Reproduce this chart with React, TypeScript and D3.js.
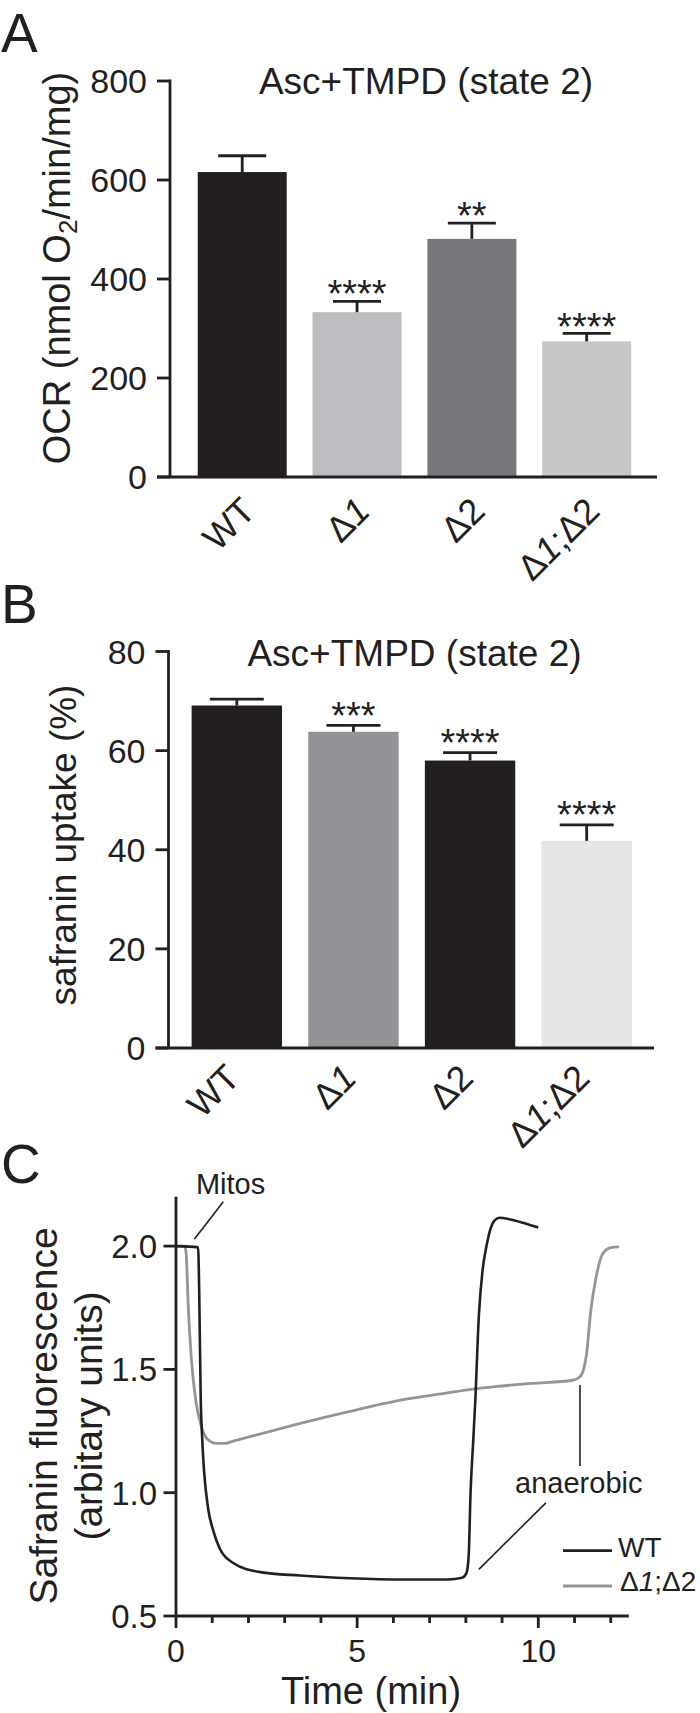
import React from "react";
import * as d3 from "d3";

// ---------- DATA ----------
const groups = ["WT", "Δ1", "Δ2", "Δ1;Δ2"];

const ocrMeans = [616, 333, 481, 274];
const ocrSems = [33, 22, 32, 16];
const ocrStars = ["", "****", "**", "****"];
const ocrTicks = [0, 200, 400, 600, 800];

const safMeans = [69.1, 63.8, 58.0, 41.8];
const safSems = [1.3, 1.3, 1.6, 3.2];
const safStars = ["", "***", "****", "****"];
const safTicks = [0, 20, 40, 60, 80];

const wtTime = [0, 0.61, 0.64, 0.68, 0.73, 0.78, 0.89, 1.03, 1.21, 1.58, 2.32, 3.42, 4.8, 6.3, 7.5, 7.9, 8.02, 8.08, 8.13, 8.2, 8.26, 8.36, 8.46, 8.57, 8.68, 8.8, 8.93, 9.2, 9.57, 10.0];
const wtValue = [2.0, 1.995, 1.82, 1.4, 1.2, 1.078, 0.933, 0.845, 0.773, 0.715, 0.678, 0.664, 0.653, 0.648, 0.648, 0.655, 0.675, 0.75, 1.0, 1.2, 1.37, 1.72, 1.9, 2.0, 2.07, 2.105, 2.115, 2.109, 2.095, 2.075];

const dkTime = [0, 0.24, 0.28, 0.34, 0.42, 0.55, 0.66, 0.85, 1.12, 1.35, 1.6, 2.5, 3.4, 4.8, 6.2, 7.5, 8.2, 8.8, 9.8, 10.95, 11.15, 11.25, 11.33, 11.45, 11.59, 11.77, 12.0, 12.23];
const dkValue = [2.0, 2.0, 1.97, 1.75, 1.55, 1.37, 1.29, 1.22, 1.2, 1.2, 1.21, 1.245, 1.28, 1.33, 1.375, 1.405, 1.42, 1.43, 1.443, 1.456, 1.47, 1.5, 1.56, 1.74, 1.87, 1.967, 1.994, 1.997];

const cYTicks = [0.5, 1.0, 1.5, 2.0];
const cXTicks = [0, 1, 2, 3, 4, 5, 6, 7, 8, 9, 10, 11, 12];
const cXLabels = [0, 5, 10];

// ---------- STYLE ----------
const FONT = "'Liberation Sans', Arial, Helvetica, sans-serif";
const INK = "#231f20";
const ocrColors = ["#231f20", "#bcbdc0", "#77787b", "#c6c7c9"];
const safColors = ["#231f20", "#929497", "#231f20", "#e5e6e7"];

function GroupLabel({ text }: { text: string }) {
  const parts = text.split("");
  return (
    <>
      {parts.map((ch, i) => (
        <tspan key={i} fontStyle={ch === "1" ? "italic" : "normal"}>
          {ch}
        </tspan>
      ))}
    </>
  );
}

type BarProps = {
  means: number[];
  sems: number[];
  stars: string[];
  ticks: number[];
  colors: string[];
  yMax: number;
  axisX: number;
  yTop: number;
  yBottom: number;
  bandRange: [number, number];
  axisRight: number;
  capW: number;
  starGap: number;
  labelDx: number;
  labelDy: number;
  title: string;
  titleX: number;
  titleY: number;
  yLabel: React.ReactNode;
  yLabelX: number;
  yLabelY: number;
  yLabelSize: number;
  letter: string;
  letterY: number;
};

function BarPanel(p: BarProps) {
  const x = d3.scaleBand<string>().domain(groups).range(p.bandRange).paddingInner(0.225).paddingOuter(0.1125);
  const y = d3.scaleLinear().domain([0, p.yMax]).range([p.yBottom, p.yTop]);
  const bw = x.bandwidth();
  const sw = 2.8;
  const starSize = 38;
  return (
    <g>
      <text x={1} y={p.letterY} fontSize={55} fontFamily={FONT} fill={INK}>
        {p.letter}
      </text>
      <text x={p.titleX} y={p.titleY} fontSize={37} fontFamily={FONT} fill={INK} textAnchor="middle">
        {p.title}
      </text>
      {groups.map((g, i) => {
        const x0 = x(g)!;
        const cx = x0 + bw / 2;
        const top = y(p.means[i]);
        const errTop = y(p.means[i] + p.sems[i]);
        return (
          <g key={g}>
            <rect x={x0} y={top} width={bw} height={p.yBottom - top} fill={p.colors[i]} />
            <line x1={cx} x2={cx} y1={top} y2={errTop} stroke={INK} strokeWidth={sw} />
            <line x1={cx - p.capW / 2} x2={cx + p.capW / 2} y1={errTop} y2={errTop} stroke={INK} strokeWidth={sw} />
            {p.stars[i] && (
              <text
                x={cx}
                y={errTop - p.starGap + 0.44 * starSize}
                fontSize={starSize}
                fontFamily={FONT}
                fill={INK}
                textAnchor="middle"
              >
                {p.stars[i]}
              </text>
            )}
            <text
              transform={`translate(${cx + p.labelDx},${p.yBottom + p.labelDy}) rotate(-45)`}
              fontSize={36}
              fontFamily={FONT}
              fill={INK}
              textAnchor="end"
            >
              <GroupLabel text={g} />
            </text>
          </g>
        );
      })}
      {/* y axis */}
      <line x1={p.axisX} x2={p.axisX} y1={p.yTop - sw / 2} y2={p.yBottom} stroke={INK} strokeWidth={sw} />
      {p.ticks.map((t) => (
        <g key={t}>
          <line x1={p.axisX - 13} x2={p.axisX} y1={y(t)} y2={y(t)} stroke={INK} strokeWidth={sw} />
          <text
            x={p.axisX - 23}
            y={y(t) + 0.36 * 34}
            fontSize={34}
            fontFamily={FONT}
            fill={INK}
            textAnchor="end"
          >
            {t}
          </text>
        </g>
      ))}
      {/* x axis */}
      <line x1={p.axisX - 13} x2={p.axisRight} y1={p.yBottom} y2={p.yBottom} stroke={INK} strokeWidth={sw} />
      <text
        transform={`translate(${p.yLabelX},${p.yLabelY}) rotate(-90)`}
        fontSize={p.yLabelSize}
        fontFamily={FONT}
        fill={INK}
        textAnchor="middle"
      >
        {p.yLabel}
      </text>
    </g>
  );
}

function TracePanel() {
  const x = d3.scaleLinear().domain([0, 12.5]).range([176, 176 + 12.5 * 36.23]);
  const y = d3.scaleLinear().domain([0.5, 2.2]).range([1616, 1616 - 1.7 * 246.6]);
  const line = d3
    .line<[number, number]>()
    .x((d) => x(d[0]))
    .y((d) => y(d[1]))
    .curve(d3.curveMonotoneX);
  const wt = line(wtTime.map((t, i) => [t, wtValue[i]] as [number, number]))!;
  const dk = line(dkTime.map((t, i) => [t, dkValue[i]] as [number, number]))!;
  const sw = 2.8;
  const x0 = x(0);
  const yb = y(0.5);
  return (
    <g>
      <text x={1} y={1183} fontSize={55} fontFamily={FONT} fill={INK}>
        C
      </text>
      <path d={dk} fill="none" stroke="#939598" strokeWidth={2.8} />
      <path d={wt} fill="none" stroke={INK} strokeWidth={2.6} />
      {/* axes */}
      <line x1={x0} x2={x0} y1={y(2.2)} y2={yb} stroke={INK} strokeWidth={sw} />
      <line x1={x0} x2={x(12.5)} y1={yb} y2={yb} stroke={INK} strokeWidth={sw} />
      {cYTicks.map((t) => (
        <g key={t}>
          <line x1={x0 - 12.5} x2={x0} y1={y(t)} y2={y(t)} stroke={INK} strokeWidth={sw} />
          <text x={x0 - 19} y={y(t) + 0.36 * 33} fontSize={33} fontFamily={FONT} fill={INK} textAnchor="end">
            {t.toFixed(1)}
          </text>
        </g>
      ))}
      {cXTicks.map((t) => (
        <line
          key={t}
          x1={x(t)}
          x2={x(t)}
          y1={yb}
          y2={yb + (cXLabels.includes(t) ? 12 : 7)}
          stroke={INK}
          strokeWidth={sw}
        />
      ))}
      {cXLabels.map((t) => (
        <text key={t} x={x(t)} y={1662} fontSize={32} fontFamily={FONT} fill={INK} textAnchor="middle">
          {t}
        </text>
      ))}
      <text x={371} y={1704} fontSize={38} fontFamily={FONT} fill={INK} textAnchor="middle">
        Time (min)
      </text>
      <text transform={`translate(57,1416) rotate(-90)`} fontSize={39} fontFamily={FONT} fill={INK} textAnchor="middle">
        <tspan x={0} dy={0}>Safranin fluorescence</tspan>
        <tspan x={0} dy={45}>(arbitary units)</tspan>
      </text>
      {/* annotations */}
      <text x={x(0.55)} y={y(2.211)} fontSize={29} fontFamily={FONT} fill={INK}>
        Mitos
      </text>
      <line x1={x(1.305)} y1={y(2.18)} x2={x(0.505)} y2={y(2.028)} stroke={INK} strokeWidth={1.6} />
      <line x1={x(11.15)} y1={y(1.437)} x2={x(11.15)} y2={y(1.108)} stroke={INK} strokeWidth={1.6} />
      <text x={x(9.36)} y={y(1.0)} fontSize={29} fontFamily={FONT} fill={INK}>
        anaerobic
      </text>
      <line x1={x(10.21)} y1={y(0.959)} x2={x(8.36)} y2={y(0.689)} stroke={INK} strokeWidth={1.6} />
      {/* legend */}
      <line x1={563} x2={612} y1={1550.7} y2={1550.7} stroke={INK} strokeWidth={2.8} />
      <text x={618} y={1557} fontSize={28} fontFamily={FONT} fill={INK}>
        WT
      </text>
      <line x1={563} x2={612} y1={1586} y2={1586} stroke="#939598" strokeWidth={2.8} />
      <text x={620} y={1591} fontSize={28} fontFamily={FONT} fill={INK}>
        <GroupLabel text={groups[3]} />
      </text>
    </g>
  );
}

export default function App() {
  return (
    <div style={{ position: "absolute", left: 0, top: 0 }}>
      <svg width={700} height={1713} viewBox="0 0 700 1713" style={{ display: "block", background: "#fff" }}>
        <rect x={0} y={0} width={700} height={1713} fill="#fff" />
        <BarPanel
          means={ocrMeans}
          sems={ocrSems}
          stars={ocrStars}
          ticks={ocrTicks}
          colors={ocrColors}
          yMax={800}
          axisX={170}
          yTop={81}
          yBottom={477}
          bandRange={[184.8, 644.1]}
          axisRight={657}
          capW={48}
          starGap={10.5}
          labelDx={15}
          labelDy={36}
          title="Asc+TMPD (state 2)"
          titleX={426}
          titleY={93.5}
          yLabel={
            <>
              OCR (nmol O<tspan dy={7} fontSize={26}>2</tspan>
              <tspan dy={-7}>/min/mg)</tspan>
            </>
          }
          yLabelX={70}
          yLabelY={268}
          yLabelSize={38}
          letter="A"
          letterY={52}
        />
        <BarPanel
          means={safMeans}
          sems={safSems}
          stars={safStars}
          ticks={safTicks}
          colors={safColors}
          yMax={80}
          axisX={168.5}
          yTop={651.5}
          yBottom={1048}
          bandRange={[178.5, 645]}
          axisRight={654}
          capW={54}
          starGap={13.5}
          labelDx={5}
          labelDy={32}
          title="Asc+TMPD (state 2)"
          titleX={414.5}
          titleY={666}
          yLabel={<>safranin uptake (%)</>}
          yLabelX={76}
          yLabelY={845}
          yLabelSize={37}
          letter="B"
          letterY={623}
        />
        <TracePanel />
      </svg>
    </div>
  );
}
